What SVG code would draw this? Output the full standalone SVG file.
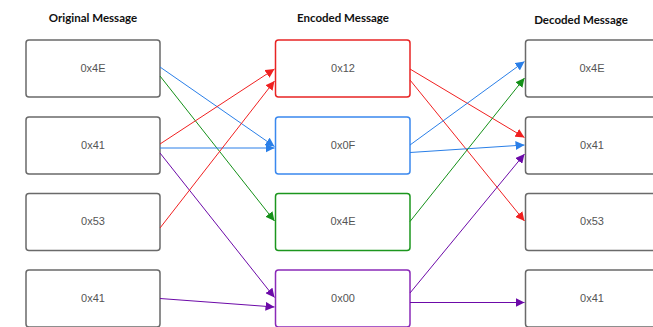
<svg xmlns="http://www.w3.org/2000/svg" width="653" height="327" viewBox="0 0 653 327">
<defs>
<style>
.hdr{font-family:Lato,"Open Sans","Liberation Sans",sans-serif;font-weight:bold;font-size:11.5px;fill:#111;text-anchor:middle}
.lbl{font-family:"Liberation Sans",Arial,sans-serif;font-size:11px;fill:#555;text-anchor:middle}
.box{fill:#fff;stroke-width:1.5}
.gray{stroke:#6a6a6a}
.c{fill:none;stroke-width:1}
.r{stroke:#f02020}.b{stroke:#2a7fe8}.g{stroke:#149018}.p{stroke:#6c0aa8}
</style>
<marker id="ar" viewBox="0 0 10 10" refX="10" refY="5" markerWidth="9" markerHeight="9" markerUnits="userSpaceOnUse" orient="auto"><path d="M0,0L10,5L0,10z" fill="#f02020"/></marker>
<marker id="ab" viewBox="0 0 10 10" refX="10" refY="5" markerWidth="9" markerHeight="9" markerUnits="userSpaceOnUse" orient="auto"><path d="M0,0L10,5L0,10z" fill="#2a7fe8"/></marker>
<marker id="ag" viewBox="0 0 10 10" refX="10" refY="5" markerWidth="9" markerHeight="9" markerUnits="userSpaceOnUse" orient="auto"><path d="M0,0L10,5L0,10z" fill="#149018"/></marker>
<marker id="ap" viewBox="0 0 10 10" refX="10" refY="5" markerWidth="9" markerHeight="9" markerUnits="userSpaceOnUse" orient="auto"><path d="M0,0L10,5L0,10z" fill="#6c0aa8"/></marker>
</defs>
<rect width="653" height="327" fill="#fff"/>
<text class="hdr" x="93" y="22">Original Message</text>
<text class="hdr" x="343" y="22">Encoded Message</text>
<text class="hdr" x="581" y="24">Decoded Message</text>

<g id="o1"><rect class="box gray" x="26" y="40" width="134" height="57" rx="3"/><text class="lbl" x="93" y="72">0x4E</text></g>
<g id="o2"><rect class="box gray" x="26" y="117" width="134" height="57" rx="3"/><text class="lbl" x="93" y="149">0x41</text></g>
<g id="o3"><rect class="box gray" x="26" y="193.5" width="134" height="57" rx="3"/><text class="lbl" x="93" y="225">0x53</text></g>
<g id="o4"><rect class="box gray" x="26" y="270" width="134" height="57" rx="3"/><text class="lbl" x="93" y="302">0x41</text></g>

<g id="e1"><rect class="box" stroke="#e82424" x="275.5" y="40" width="134.5" height="57" rx="3"/><text class="lbl" x="343" y="72">0x12</text></g>
<g id="e2"><rect class="box" stroke="#3a88ee" x="275.5" y="117" width="134.5" height="57" rx="3"/><text class="lbl" x="343" y="149">0x0F</text></g>
<g id="e3"><rect class="box" stroke="#1c961e" x="275.5" y="193.5" width="134.5" height="57" rx="3"/><text class="lbl" x="343" y="225">0x4E</text></g>
<g id="e4"><rect class="box" stroke="#8a2ab8" x="275.5" y="270" width="134.5" height="57" rx="3"/><text class="lbl" x="343" y="302">0x00</text></g>

<g id="d1"><rect class="box gray" x="525.5" y="40" width="135" height="57" rx="3"/><text class="lbl" x="592" y="72">0x4E</text></g>
<g id="d2"><rect class="box gray" x="525.5" y="117" width="135" height="57" rx="3"/><text class="lbl" x="592" y="149">0x41</text></g>
<g id="d3"><rect class="box gray" x="525.5" y="193.5" width="135" height="57" rx="3"/><text class="lbl" x="592" y="225">0x53</text></g>
<g id="d4"><rect class="box gray" x="525.5" y="270" width="135" height="57" rx="3"/><text class="lbl" x="592" y="302">0x41</text></g>

<g id="connectors">
<line class="c b" x1="160" y1="67" x2="274.5" y2="146.5" marker-end="url(#ab)"/>
<line class="c g" x1="160" y1="76" x2="274.5" y2="221" marker-end="url(#ag)"/>
<line class="c r" x1="160" y1="144" x2="274.5" y2="69" marker-end="url(#ar)"/>
<line class="c b" x1="160" y1="148" x2="274.5" y2="148" marker-end="url(#ab)"/>
<line class="c p" x1="160" y1="153" x2="274.5" y2="297.5" marker-end="url(#ap)"/>
<line class="c r" x1="160" y1="228" x2="274.5" y2="81" marker-end="url(#ar)"/>
<line class="c p" x1="160" y1="298.5" x2="274.5" y2="307" marker-end="url(#ap)"/>

<line class="c r" x1="410" y1="69" x2="524.5" y2="137.5" marker-end="url(#ar)"/>
<line class="c r" x1="410" y1="80" x2="524.5" y2="221" marker-end="url(#ar)"/>
<line class="c b" x1="410" y1="145" x2="524.5" y2="61.5" marker-end="url(#ab)"/>
<line class="c b" x1="410" y1="152.5" x2="524.5" y2="145" marker-end="url(#ab)"/>
<line class="c g" x1="410" y1="221.5" x2="524.5" y2="78" marker-end="url(#ag)"/>
<line class="c p" x1="410" y1="293" x2="524.5" y2="154" marker-end="url(#ap)"/>
<line class="c p" x1="410" y1="302.5" x2="524.5" y2="302.5" marker-end="url(#ap)"/>
</g>
</svg>
